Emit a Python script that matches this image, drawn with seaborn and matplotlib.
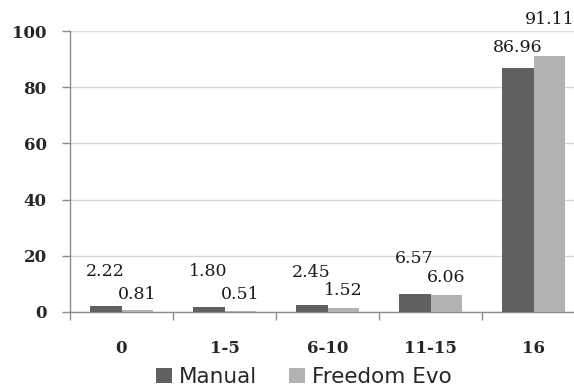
import matplotlib
matplotlib.use("Agg")
import matplotlib.pyplot as plt
import seaborn as sns
import pandas as pd
from matplotlib.patches import Patch

categories = ["0", "1-5", "6-10", "11-15", "16"]
manual = [2.22, 1.80, 2.45, 6.57, 86.96]
freedom_evo = [0.81, 0.51, 1.52, 6.06, 91.11]
series_names = ["Manual", "Freedom Evo"]
colors = ["#606060", "#B2B2B2"]
y_ticks = [0, 20, 40, 60, 80, 100]

df = pd.DataFrame({
    "cat": categories * 2,
    "val": manual + freedom_evo,
    "series": [series_names[0]] * len(categories) + [series_names[1]] * len(categories),
})

sns.set_style("white")
plt.rcParams["font.family"] = ["DejaVu Serif"]

fig = plt.figure(figsize=(5.74, 3.89), dpi=100)
ax = fig.add_axes([70 / 574, 77 / 389, 515 / 574, 281 / 389])

sns.barplot(data=df, x="cat", y="val", hue="series", order=categories,
            hue_order=series_names, palette=colors, width=0.62,
            saturation=1, ax=ax, legend=False, zorder=3, linewidth=0)

ax.set_xlim(-0.5, 4.5)
ax.set_ylim(0, 100)
ax.set_yticks(y_ticks)
ax.set_xlabel("")
ax.set_ylabel("")
ax.yaxis.grid(True, color="#D9D9D9", linewidth=1, zorder=0)
ax.set_axisbelow(True)

for s in ["top", "right"]:
    ax.spines[s].set_visible(False)
for s in ["left", "bottom"]:
    ax.spines[s].set_color("#8C8C8C")
    ax.spines[s].set_linewidth(1)

ax.tick_params(axis="y", length=5.8, width=1, color="#8C8C8C", pad=11,
               labelsize=12, direction="out", left=True)
for lbl in ax.get_yticklabels():
    lbl.set_fontweight("bold")
ax.tick_params(axis="x", which="major", length=0, pad=20, labelsize=12)
for lbl in ax.get_xticklabels():
    lbl.set_fontweight("bold")
ax.set_xticks([-0.5, 0.5, 1.5, 2.5, 3.5], minor=True)
ax.tick_params(axis="x", which="minor", length=5.5, width=1, color="#8C8C8C",
               direction="out", bottom=True)

# label offsets (pixels above bar top)
offsets = [[34, 35, 33, 35, 20], [15, 16, 17, 17, 36]]
for si, cont in enumerate(ax.containers):
    for bi, bar in enumerate(cont):
        v = bar.get_height()
        ax.annotate(f"{v:.2f}", (bar.get_x() + bar.get_width() / 2, v),
                    xytext=(0, offsets[si][bi] * 0.72), textcoords="offset points",
                    ha="center", va="center", fontsize=12.5, color="#1a1a1a",
                    annotation_clip=False)

handles = [Patch(facecolor=c, edgecolor="none") for c in colors]
fig.legend(handles, series_names, loc="center", bbox_to_anchor=(0.529, 0.031),
           ncol=2, frameon=False, handlelength=0.75, handleheight=0.75,
           handletextpad=0.3, columnspacing=1.5,
           prop={"family": "DejaVu Sans", "size": 15.5})

fig.savefig("out.png", dpi=100)
